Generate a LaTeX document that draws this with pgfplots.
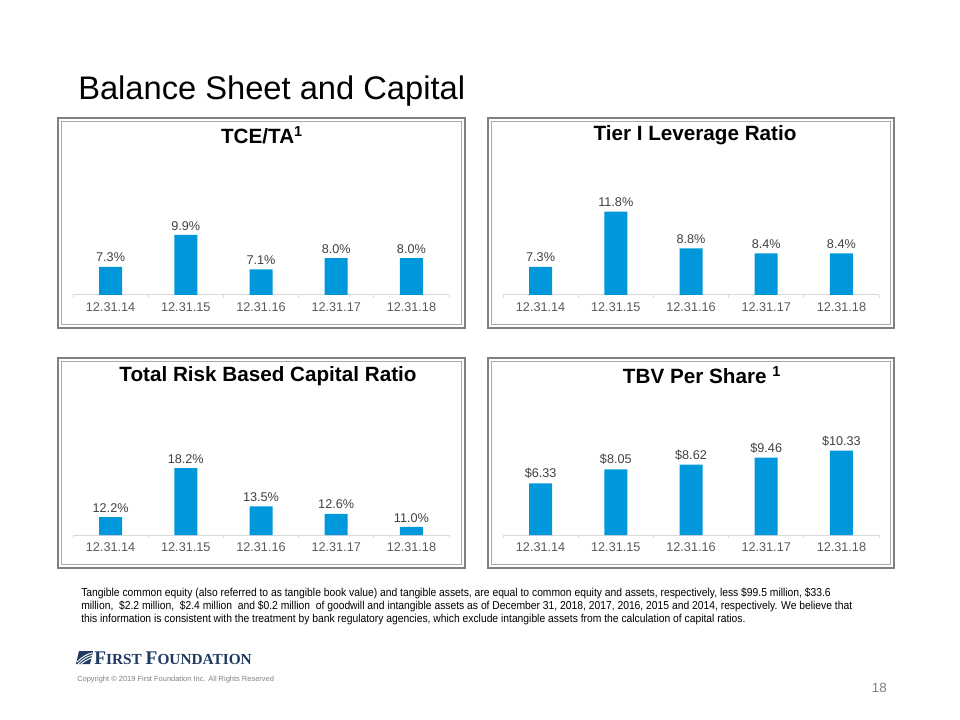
\documentclass[border=0pt]{standalone}
\usepackage{fontspec}
\setmainfont{Liberation Sans}
\newfontfamily\narrowfont{Liberation Sans}[FakeStretch=0.9]
\newfontfamily\logofont{Liberation Serif}
\usepackage{pgfplots}
\pgfplotsset{compat=1.18}
\definecolor{barblue}{RGB}{0,152,218}
\definecolor{frameouter}{RGB}{128,128,128}
\definecolor{frameinner}{RGB}{170,170,170}
\definecolor{axisgray}{RGB}{217,217,217}
\definecolor{ticklab}{RGB}{89,89,89}
\definecolor{datalab}{RGB}{64,64,64}
\definecolor{navy}{RGB}{31,58,96}
\pgfplotsset{panel/.style={
  scale only axis, width=282pt, height=73.5pt,
  anchor=south west,
  xmin=-0.5, xmax=4.5,
  axis x line*=bottom, axis y line=none,
  x axis line style={-, draw=axisgray, line width=0.75pt},
  xtick={0,1,2,3,4},
  xticklabels={12.31.14,12.31.15,12.31.16,12.31.17,12.31.18},
  major x tick style={draw=none},
  minor xtick={-0.5,0.5,1.5,2.5,3.5,4.5},
  minor x tick style={draw=axisgray, line width=0.75pt},
  minor tick length=2.5pt, major tick length=2.5pt, tick align=outside,
  xticklabel style={font=\fontsize{9.5}{11}\selectfont, text=ticklab},
  ytick=\empty,
  ybar, bar width=17.25pt,
  nodes near coords, point meta=explicit symbolic,
  every node near coord/.append style={font=\fontsize{9.5}{11}\selectfont, text=datalab},
}}
\begin{document}
\begin{tikzpicture}
\path[use as bounding box] (0,0) rectangle (720pt,-540pt);
\begin{scope}[x=0.75pt,y=-0.75pt]
  % main title
  \node[anchor=base west, inner sep=0, font=\fontsize{24.5}{28}\selectfont] at (78,100) {Balance Sheet and Capital};
  % frames
  \foreach \l/\t/\r/\b in {58/118/465/328, 488/118/894/328, 58/358/465/568, 488/358/894/568}{
    \draw[frameouter, line width=1.6pt] (\l,\t) rectangle (\r,\b);
    \draw[frameinner, line width=0.6pt] (\l+3.5,\t+3.5) rectangle (\r-3.5,\b-3.5);
  }
  % panel titles
  \node[font=\fontsize{15.5}{18}\selectfont\bfseries] at (262,135) {TCE/TA\textsuperscript{1}};
  \node[font=\fontsize{15.5}{18}\selectfont\bfseries] at (695,135) {Tier I Leverage Ratio};
  \node[font=\fontsize{15.5}{18}\selectfont\bfseries] at (268,376) {Total Risk Based Capital Ratio};
  \node[font=\fontsize{15.5}{18}\selectfont\bfseries] at (702,375) {TBV Per Share \textsuperscript{1}};
  % footnote
  \node[anchor=north west, inner sep=0, align=left, font=\narrowfont\fontsize{8.6}{9.75}\selectfont] at (81,588)
  {Tangible common equity (also referred to as tangible book value) and tangible assets, are equal to common equity and assets, respectively, less \$99.5 million, \$33.6\\
   million, \ \$2.2 million, \ \$2.4 million \ and \$0.2 million \ of goodwill and intangible assets as of December 31, 2018, 2017, 2016, 2015 and 2014, respectively. We believe that\\
   this information is consistent with the treatment by bank regulatory agencies, which exclude intangible assets from the calculation of capital ratios.};
  % logo
  \fill[navy] (79,651) -- (93,651) -- (90,664) -- (76,664) -- cycle;
  \draw[white, line width=0.7pt] (77,662) .. controls (82,657) and (87,654) .. (92,653);
  \draw[white, line width=0.7pt] (78,664) .. controls (83,659) and (88,656) .. (92,655.5);
  \draw[white, line width=0.7pt] (81,664) .. controls (85,661) and (88,659) .. (91.5,658);
  \node[anchor=base west, inner sep=0, text=navy] at (94,664)
    {\logofont\bfseries\fontsize{14.5}{15}\selectfont F\fontsize{11.5}{12}\selectfont IRST \fontsize{14.5}{15}\selectfont F\fontsize{11.5}{12}\selectfont OUNDATION};
  \node[anchor=base west, inner sep=0, text=gray, font=\fontsize{5.6}{6}\selectfont] at (77,681)
    {Copyright \textcopyright\ 2019 First Foundation Inc. All Rights Reserved};
  \node[anchor=base east, inner sep=0, text=gray, font=\fontsize{10}{12}\selectfont] at (887,692) {18};
\end{scope}

% TCE/TA
\begin{axis}[panel, at={(54.75pt,-221.25pt)}, ymin=5, ymax=13]
\addplot[fill=barblue, draw=none] coordinates {(0,7.3) [7.3\%] (1,9.9) [9.9\%] (2,7.1) [7.1\%] (3,8.0) [8.0\%] (4,8.0) [8.0\%]};
\end{axis}
% Tier I
\begin{axis}[panel, at={(377.25pt,-221.25pt)}, ymin=5, ymax=13]
\addplot[fill=barblue, draw=none] coordinates {(0,7.3) [7.3\%] (1,11.8) [11.8\%] (2,8.8) [8.8\%] (3,8.4) [8.4\%] (4,8.4) [8.4\%]};
\end{axis}
% Total Risk Based
\begin{axis}[panel, at={(54.75pt,-401.25pt)}, ymin=10, ymax=22]
\addplot[fill=barblue, draw=none] coordinates {(0,12.2) [12.2\%] (1,18.2) [18.2\%] (2,13.5) [13.5\%] (3,12.6) [12.6\%] (4,11.0) [11.0\%]};
\end{axis}
% TBV
\begin{axis}[panel, at={(377.25pt,-401.25pt)}, ymin=0, ymax=12]
\addplot[fill=barblue, draw=none] coordinates {(0,6.33) [\$6.33] (1,8.05) [\$8.05] (2,8.62) [\$8.62] (3,9.46) [\$9.46] (4,10.33) [\$10.33]};
\end{axis}
\end{tikzpicture}
\end{document}
